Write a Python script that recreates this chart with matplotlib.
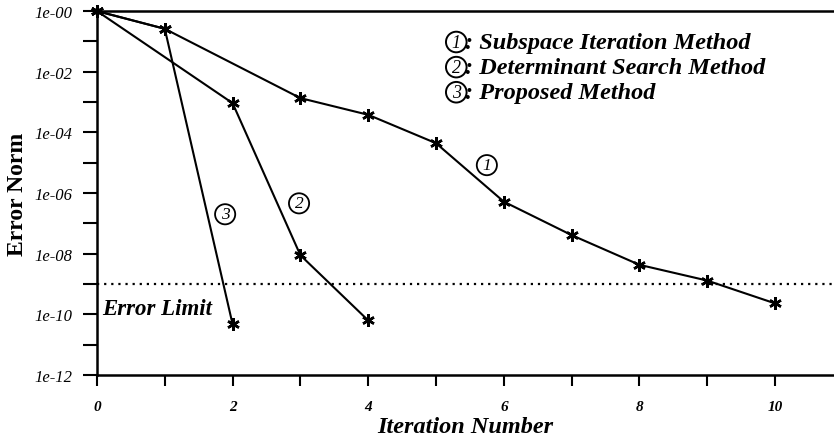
import numpy as np
import matplotlib
matplotlib.use("Agg")
import matplotlib.pyplot as plt

plt.rcParams['font.family'] = ['Liberation Serif', 'DejaVu Serif']

# error norm per iteration
iter_subspace = [0, 1, 3, 4, 5, 6, 7, 8, 9, 10]
err_subspace = [1.0, 0.26, 1.35e-3, 3.8e-4, 4.4e-5, 5.2e-7, 4.1e-8, 4.3e-9, 1.3e-9, 2.3e-10]

iter_determinant = [0, 2, 3, 4]
err_determinant = [1.0, 9.2e-4, 8.9e-9, 6.3e-11]

iter_proposed = [0, 1, 2]
err_proposed = [1.0, 0.26, 4.7e-11]

error_limit = 1e-9

legend_labels = ['Subspace Iteration Method', 'Determinant Search Method', 'Proposed Method']
# where the circled numbers sit next to the curves (x, y)
curve_tags = [('1', 5.75, 10**-5.08), ('2', 2.98, 10**-6.34), ('3', 1.89, 10**-6.7)]

fig = plt.figure(figsize=(8.34, 4.39), dpi=100)
ax = fig.add_axes([0.1163, 0.1435, 0.8837, 0.829])

marker = (6, 2, 0)
for xs, ys in [(iter_subspace, err_subspace), (iter_determinant, err_determinant),
               (iter_proposed, err_proposed)]:
    ax.plot(xs, ys, color='k', linewidth=1.5, marker=marker, markersize=9,
            markeredgewidth=1.8, clip_on=False, zorder=3)

ax.axhline(error_limit, color='k', linewidth=1.6, linestyle=(0, (1, 2.2)))
ax.text(0.08, 10**-9.82, 'Error Limit', fontsize=16.5, fontweight='bold', fontstyle='italic',
        va='center', ha='left')

for num, x, y in curve_tags:
    ax.text(x, y, num, fontsize=12.5, fontstyle='italic', ha='center', va='center',
            bbox=dict(boxstyle='circle,pad=0.12', fc='white', ec='k', lw=1.3))

for i, lab in enumerate(legend_labels):
    yy = 0.915 - i * 0.069
    ax.text(0.4875, yy, str(i + 1), transform=ax.transAxes, fontsize=13, fontstyle='italic',
            ha='center', va='center',
            bbox=dict(boxstyle='circle,pad=0.1', fc='white', ec='k', lw=1.4))
    ax.text(0.5, yy, ': ' + lab, transform=ax.transAxes, fontsize=17.5,
            fontweight='bold', fontstyle='italic', ha='left', va='center')

ax.set_yscale('log')
ax.set_ylim(1e-12, 1.0)
ax.set_xlim(0, 10.87)

exps = np.arange(0, -13, -1)
ax.set_yticks(10.0 ** exps)
ax.set_yticklabels(['1e-%02d' % -e if e % 2 == 0 else '' for e in exps],
                   fontsize=12, fontstyle='italic')
ax.yaxis.set_minor_locator(matplotlib.ticker.NullLocator())
ax.set_xticks(range(0, 11))
ax.set_xticklabels([str(i) if i % 2 == 0 else '' for i in range(0, 11)],
                   fontsize=11, fontstyle='italic', fontweight='bold')

ax.tick_params(axis='y', direction='out', length=10, width=1.5, pad=8)
ax.tick_params(axis='x', direction='out', length=8, width=1.5, pad=10)

ax.spines['right'].set_visible(False)
for s in ['left', 'top', 'bottom']:
    ax.spines[s].set_linewidth(1.8)

ax.set_xlabel('Iteration Number', fontsize=17.5, fontweight='bold', fontstyle='italic', labelpad=2)
ax.set_ylabel('Error Norm', fontsize=17, fontweight='bold')
ax.yaxis.set_label_coords(-0.094, 0.5)

fig.savefig('out.png', dpi=100)
